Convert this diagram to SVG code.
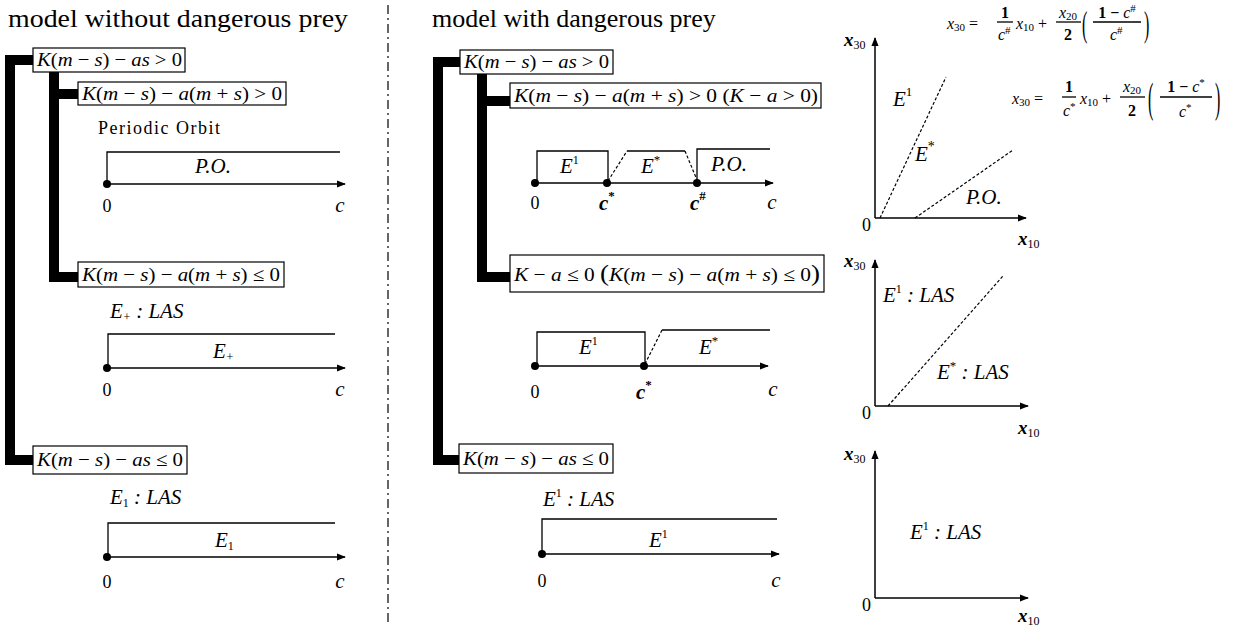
<svg xmlns="http://www.w3.org/2000/svg" width="1237" height="626" viewBox="0 0 1237 626">
<style>
text{font-family:"Liberation Serif","Times New Roman",serif;fill:#000}
.t{font-size:26px}
.m{font-style:italic;font-size:19px}
.u{font-style:normal}
.sm{font-size:18px}
.lb{font-style:italic;font-size:21px}
.box{fill:#fff;stroke:#000;stroke-width:1.2}
.bar{fill:none;stroke:#000;stroke-width:10;stroke-linejoin:miter}
.ln{fill:none;stroke:#000;stroke-width:1.3}
.ax{fill:none;stroke:#000;stroke-width:1.5;marker-end:url(#ah)}
.dsh{fill:none;stroke:#000;stroke-width:1.2;stroke-dasharray:3,2}
.div{fill:none;stroke:#000;stroke-width:1.2;stroke-dasharray:9,4,2,4}
.eq{font-size:16px}
.mid{text-anchor:middle}
</style>
<defs>
<marker id="ah" viewBox="0 0 10 10" refX="9" refY="5" markerWidth="9" markerHeight="9" markerUnits="userSpaceOnUse" orient="auto"><path d="M0,1 L10,5 L0,9 z" fill="#000"/></marker>
</defs>

<!-- titles and divider -->
<text class="t" x="8" y="27" textLength="340" lengthAdjust="spacingAndGlyphs">model without dangerous prey</text>
<text class="t" x="432" y="27">model with dangerous prey</text>
<line class="div" x1="388" y1="5" x2="388" y2="626"/>

<!-- connectors -->
<g id="connectors">
<path class="bar" d="M33,60 H10 V460 H33"/>
<path class="bar" d="M54,72 V277 H78 M54,94 H78"/>
<path class="bar" d="M460,62 H438 V460 H459"/>
<path class="bar" d="M482,74 V277 H510 M482,101 H510"/>
</g>

<!-- LEFT PANEL -->
<g id="L1">
<rect class="box" x="33" y="48" width="152" height="24"/>
<text class="m" x="37" y="66" textLength="145" lengthAdjust="spacingAndGlyphs">K<tspan class="u">(</tspan>m<tspan class="u"> − </tspan>s<tspan class="u">) − </tspan>as<tspan class="u"> &gt; 0</tspan></text>
</g>
<g id="L2">
<rect class="box" x="78" y="82" width="208" height="23"/>
<text class="m" x="82" y="100" textLength="200" lengthAdjust="spacingAndGlyphs">K<tspan class="u">(</tspan>m<tspan class="u"> − </tspan>s<tspan class="u">) − </tspan>a<tspan class="u">(</tspan>m<tspan class="u"> + </tspan>s<tspan class="u">) &gt; 0</tspan></text>
</g>
<g id="L2chart">
<text x="98" y="134" font-size="18" textLength="122" lengthAdjust="spacing">Periodic Orbit</text>
<path class="ln" d="M107,184 V152 H340"/>
<line class="ax" x1="107" y1="184" x2="345" y2="184"/>
<circle cx="107" cy="184" r="4"/>
<text class="lb mid" x="213" y="173">P.O.</text>
<text class="sm mid" x="107" y="212">0</text>
<text class="lb mid" x="340" y="212">c</text>
</g>
<g id="L3">
<rect class="box" x="78" y="262" width="206" height="25"/>
<text class="m" x="82" y="281" textLength="198" lengthAdjust="spacingAndGlyphs">K<tspan class="u">(</tspan>m<tspan class="u"> − </tspan>s<tspan class="u">) − </tspan>a<tspan class="u">(</tspan>m<tspan class="u"> + </tspan>s<tspan class="u">) ≤ 0</tspan></text>
</g>
<g id="L3chart">
<text class="lb" x="110" y="318">E<tspan font-size="12" dy="3">+</tspan><tspan dy="-3"> : LAS</tspan></text>
<path class="ln" d="M108,368 V334 H335"/>
<line class="ax" x1="107" y1="368" x2="345" y2="368"/>
<circle cx="107" cy="368" r="4"/>
<text class="lb" x="213" y="358">E<tspan font-size="12" dy="3">+</tspan></text>
<text class="sm mid" x="107" y="396">0</text>
<text class="lb mid" x="340" y="396">c</text>
</g>
<g id="L4">
<rect class="box" x="33" y="446" width="154" height="28"/>
<text class="m" x="37" y="466" textLength="146" lengthAdjust="spacingAndGlyphs">K<tspan class="u">(</tspan>m<tspan class="u"> − </tspan>s<tspan class="u">) − </tspan>as<tspan class="u"> ≤ 0</tspan></text>
</g>
<g id="L4chart">
<text class="lb" x="110" y="504">E<tspan font-size="12" font-style="normal" dy="3">1</tspan><tspan dy="-3"> : LAS</tspan></text>
<path class="ln" d="M108,557 V523 H335"/>
<line class="ax" x1="107" y1="557" x2="345" y2="557"/>
<circle cx="107" cy="557" r="4"/>
<text class="lb" x="215" y="547">E<tspan font-size="12" font-style="normal" dy="3">1</tspan></text>
<text class="sm mid" x="107" y="588">0</text>
<text class="lb mid" x="340" y="588">c</text>
</g>

<!-- MIDDLE PANEL -->
<g id="M1">
<rect class="box" x="460" y="50" width="153" height="24"/>
<text class="m" x="464" y="68" textLength="145" lengthAdjust="spacingAndGlyphs">K<tspan class="u">(</tspan>m<tspan class="u"> − </tspan>s<tspan class="u">) − </tspan>as<tspan class="u"> &gt; 0</tspan></text>
</g>
<g id="M2">
<rect class="box" x="510" y="83" width="311" height="25"/>
<text class="m" x="514" y="102" textLength="304" lengthAdjust="spacingAndGlyphs">K<tspan class="u">(</tspan>m<tspan class="u"> − </tspan>s<tspan class="u">) − </tspan>a<tspan class="u">(</tspan>m<tspan class="u"> + </tspan>s<tspan class="u">) &gt; 0    (</tspan>K<tspan class="u"> − </tspan>a<tspan class="u"> &gt; 0)</tspan></text>
</g>
<g id="M2chart">
<path class="ln" d="M537,183 V151 H608 V183"/>
<path class="dsh" d="M608,181 L627,151 M685,151 L697,180"/>
<path class="ln" d="M627,151 H685"/>
<path class="ln" d="M697,183 V149 H770"/>
<line class="ax" x1="535" y1="183" x2="773" y2="183"/>
<circle cx="535" cy="183" r="4"/>
<circle cx="607" cy="183" r="4"/>
<circle cx="697" cy="183" r="4"/>
<text class="lb" x="560" y="173" font-size="22">E<tspan font-size="12" font-style="normal" dy="-9">1</tspan></text>
<text class="lb" x="641" y="173" font-size="22">E<tspan font-size="13" font-style="normal" dy="-9">*</tspan></text>
<text class="lb mid" x="729" y="171">P.O.</text>
<text class="sm mid" x="535" y="209">0</text>
<text class="lb" x="599" y="210" font-weight="bold">c<tspan font-size="13" font-style="normal" dy="-10">*</tspan></text>
<text class="lb" x="690" y="210" font-weight="bold">c<tspan font-size="13" font-style="normal" dy="-10">#</tspan></text>
<text class="lb mid" x="772" y="209">c</text>
</g>
<g id="M3">
<rect class="box" x="510" y="255" width="314" height="37"/>
<text class="m" x="514" y="281" textLength="306" lengthAdjust="spacingAndGlyphs">K<tspan class="u"> − </tspan>a<tspan class="u"> ≤ 0   </tspan><tspan class="u" font-size="24">(</tspan>K<tspan class="u">(</tspan>m<tspan class="u"> − </tspan>s<tspan class="u">) − </tspan>a<tspan class="u">(</tspan>m<tspan class="u"> + </tspan>s<tspan class="u">) ≤ 0</tspan><tspan class="u" font-size="24">)</tspan></text>
</g>
<g id="M3chart">
<path class="ln" d="M537,366 V332 H645 V366"/>
<path class="dsh" d="M645,364 L662,330"/>
<path class="ln" d="M662,330 H770"/>
<line class="ax" x1="535" y1="366" x2="768" y2="366"/>
<circle cx="535" cy="366" r="4"/>
<circle cx="644" cy="366" r="4"/>
<text class="lb" x="579" y="354" font-size="22">E<tspan font-size="12" font-style="normal" dy="-9">1</tspan></text>
<text class="lb" x="699" y="354" font-size="22">E<tspan font-size="13" font-style="normal" dy="-9">*</tspan></text>
<text class="sm mid" x="535" y="398">0</text>
<text class="lb" x="636" y="399" font-weight="bold">c<tspan font-size="13" font-style="normal" dy="-10">*</tspan></text>
<text class="lb mid" x="773" y="396">c</text>
</g>
<g id="M4">
<rect class="box" x="459" y="444" width="154" height="29"/>
<text class="m" x="463" y="465" textLength="146" lengthAdjust="spacingAndGlyphs">K<tspan class="u">(</tspan>m<tspan class="u"> − </tspan>s<tspan class="u">) − </tspan>as<tspan class="u"> ≤ 0</tspan></text>
</g>
<g id="M4chart">
<text class="lb" x="543" y="506">E<tspan font-size="12" font-style="normal" dy="-9">1</tspan><tspan dy="9"> : LAS</tspan></text>
<path class="ln" d="M542,554 V519 H777"/>
<line class="ax" x1="542" y1="554" x2="779" y2="554"/>
<circle cx="542" cy="554" r="4"/>
<text class="lb" x="649" y="547" font-size="22">E<tspan font-size="12" font-style="normal" dy="-9">1</tspan></text>
<text class="sm mid" x="542" y="587">0</text>
<text class="lb mid" x="776" y="587">c</text>
</g>

<!-- RIGHT PANEL -->
<g id="R1">
<line class="ax" x1="875" y1="218" x2="875" y2="38"/>
<line class="ax" x1="875" y1="218" x2="1026" y2="218"/>
<path class="dsh" d="M880,218 L946,77 M915,218 L1013,150"/>
<text class="m" x="844" y="46" font-size="18" font-weight="bold">x<tspan font-size="12" font-style="normal" font-weight="normal" dy="3">30</tspan></text>
<text class="sm" x="862" y="231">0</text>
<text class="m" x="1018" y="245" font-size="18" font-weight="bold">x<tspan font-size="12" font-style="normal" font-weight="normal" dy="3">10</tspan></text>
<text class="lb" x="893" y="106" font-size="23">E<tspan font-size="13" font-style="normal" dy="-10">1</tspan></text>
<text class="lb" x="915" y="161" font-size="23">E<tspan font-size="14" font-style="normal" dy="-10">*</tspan></text>
<text class="lb" x="966" y="204" font-size="21">P.O.</text>
</g>
<g id="Eq1" class="eq">
<text class="m eq" x="947" y="29">x<tspan font-size="11" font-style="normal" dy="2">30</tspan><tspan class="u" dy="-2"> =</tspan></text>
<text class="eq mid" x="1005" y="18" font-weight="bold">1</text>
<line class="ln" x1="997" y1="22" x2="1013" y2="22" stroke-width="1"/>
<text class="m eq" x="998" y="40">c<tspan font-size="11" font-style="normal" dy="-6">#</tspan></text>
<text class="m eq" x="1016" y="29">x<tspan font-size="11" font-style="normal" dy="2">10</tspan><tspan class="u" dy="-2"> +</tspan></text>
<text class="m eq mid" x="1068" y="18">x<tspan font-size="11" font-style="normal" dy="2">20</tspan></text>
<line class="ln" x1="1056" y1="22" x2="1081" y2="22" stroke-width="1"/>
<text class="eq mid" x="1068" y="40" font-weight="bold">2</text>
<text class="eq" transform="translate(1082,36) scale(1,2.3)">(</text>
<text class="eq mid" x="1117" y="18" font-weight="bold">1 − <tspan font-style="italic" font-weight="normal">c</tspan><tspan font-size="11" font-weight="normal" dy="-6">#</tspan></text>
<line class="ln" x1="1093" y1="22" x2="1141" y2="22" stroke-width="1"/>
<text class="m eq" x="1110" y="40">c<tspan font-size="11" font-style="normal" dy="-6">#</tspan></text>
<text class="eq" transform="translate(1144,36) scale(1,2.3)">)</text>
</g>
<g id="Eq2" class="eq">
<text class="m eq" x="1012" y="104">x<tspan font-size="11" font-style="normal" dy="2">30</tspan><tspan class="u" dy="-2"> =</tspan></text>
<text class="eq mid" x="1069" y="92" font-weight="bold">1</text>
<line class="ln" x1="1062" y1="97" x2="1076" y2="97" stroke-width="1"/>
<text class="m eq" x="1063" y="116">c<tspan font-size="11" font-style="normal" dy="-6">*</tspan></text>
<text class="m eq" x="1080" y="104">x<tspan font-size="11" font-style="normal" dy="2">10</tspan><tspan class="u" dy="-2"> +</tspan></text>
<text class="m eq mid" x="1132" y="92">x<tspan font-size="11" font-style="normal" dy="2">20</tspan></text>
<line class="ln" x1="1120" y1="97" x2="1145" y2="97" stroke-width="1"/>
<text class="eq mid" x="1132" y="116" font-weight="bold">2</text>
<text class="eq" transform="translate(1148,112) scale(1,2.6)">(</text>
<text class="eq mid" x="1186" y="92" font-weight="bold">1 − <tspan font-style="italic" font-weight="normal">c</tspan><tspan font-size="11" font-weight="normal" dy="-6">*</tspan></text>
<line class="ln" x1="1160" y1="97" x2="1212" y2="97" stroke-width="1"/>
<text class="m eq" x="1179" y="117">c<tspan font-size="11" font-style="normal" dy="-6">*</tspan></text>
<text class="eq" transform="translate(1215,112) scale(1,2.6)">)</text>
</g>
<g id="R2">
<line class="ax" x1="875" y1="406" x2="875" y2="260"/>
<line class="ax" x1="875" y1="406" x2="1028" y2="406"/>
<path class="dsh" d="M888,406 L1003,276"/>
<text class="m" x="844" y="267" font-size="18" font-weight="bold">x<tspan font-size="12" font-style="normal" font-weight="normal" dy="3">30</tspan></text>
<text class="sm" x="862" y="419">0</text>
<text class="m" x="1018" y="434" font-size="18" font-weight="bold">x<tspan font-size="12" font-style="normal" font-weight="normal" dy="3">10</tspan></text>
<text class="lb" x="883" y="302">E<tspan font-size="12" font-style="normal" dy="-9">1</tspan><tspan dy="9"> : LAS</tspan></text>
<text class="lb" x="937" y="379">E<tspan font-size="13" font-style="normal" dy="-9">*</tspan><tspan dy="9"> : LAS</tspan></text>
</g>
<g id="R3">
<line class="ax" x1="875" y1="598" x2="875" y2="451"/>
<line class="ax" x1="875" y1="598" x2="1028" y2="598"/>
<text class="m" x="844" y="460" font-size="18" font-weight="bold">x<tspan font-size="12" font-style="normal" font-weight="normal" dy="3">30</tspan></text>
<text class="sm" x="862" y="611">0</text>
<text class="m" x="1018" y="622" font-size="18" font-weight="bold">x<tspan font-size="12" font-style="normal" font-weight="normal" dy="3">10</tspan></text>
<text class="lb" x="910" y="539">E<tspan font-size="12" font-style="normal" dy="-9">1</tspan><tspan dy="9"> : LAS</tspan></text>
</g>
</svg>
